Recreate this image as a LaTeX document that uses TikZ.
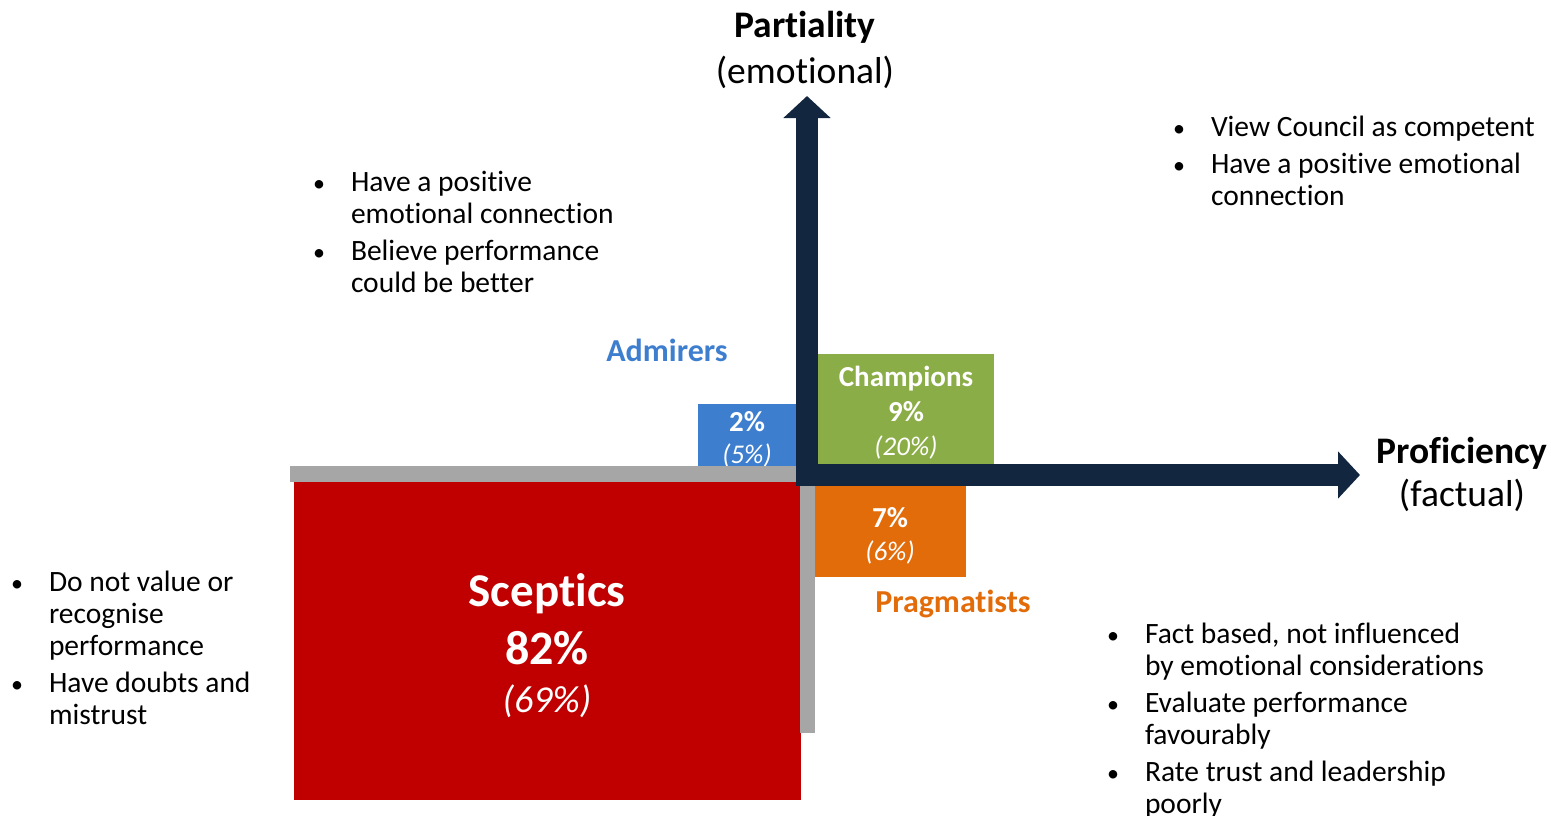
\documentclass[tikz,border=0pt]{standalone}
\usepackage{fontspec}
\setmainfont{Carlito}[Ligatures=NoCommon]
\usetikzlibrary{arrows.meta}
\definecolor{axisnavy}{RGB}{18,38,64}
\definecolor{barsgray}{RGB}{166,166,166}
\definecolor{sceptred}{RGB}{192,0,0}
\definecolor{admirblue}{RGB}{62,126,207}
\definecolor{champgreen}{RGB}{139,173,72}
\definecolor{pragorange}{RGB}{227,108,10}
\newcommand{\bitem}{\llap{\fontsize{24}{32}\selectfont•\hspace{26pt}}}
\begin{document}
\begin{tikzpicture}[x=1pt,y=-1pt,every node/.style={inner sep=0,outer sep=0},
    quad/.style={anchor=north west,minimum width=#1},
    axis/.style={draw=axisnavy,line width=22pt,-{Triangle[width=46pt,length=22pt]}},
    bigtitle/.style={font=\fontsize{37.5}{44}\selectfont\bfseries},
    subtitle/.style={font=\fontsize{37.5}{44}\selectfont},
    numtext/.style={text=white,font=\fontsize{29}{34}\selectfont\bfseries},
    oldtext/.style={text=white,font=\fontsize{27}{32}\selectfont\itshape},
    notes/.style={anchor=north west,align=left,font=\fontsize{29.5}{32}\selectfont}]
\useasboundingbox (0,0) rectangle (1551,816);

% groups
\node[quad=507,minimum height=318,fill=sceptred] (sceptics) at (294,482) {};
\node[quad=99,minimum height=62,fill=admirblue] (admirers) at (698,404) {};
\node[quad=176,minimum height=110,fill=champgreen] (champions) at (818,354) {};
\node[quad=152,minimum height=91,fill=pragorange] (pragmatists) at (814,486) {};

\node[numtext] (adpct) at (747,422) {2\%};
\node[oldtext] (adold) at (747,455) {(5\%)};
\node[numtext] (chname) at (906,379) {Champions};
\node[numtext] (chpct) at (906,412) {9\%};
\node[oldtext] (chold) at (906,447) {(20\%)};
\node[numtext] (prpct) at (890,518) {7\%};
\node[oldtext] (prold) at (890,552) {(6\%)};
\node[text=white,font=\fontsize{47}{56}\selectfont\bfseries] (scname) at (547,594) {Sceptics};
\node[text=white,font=\fontsize{48}{56}\selectfont\bfseries] (scpct) at (547,648) {82\%};
\node[text=white,font=\fontsize{38}{45}\selectfont\itshape] (scold) at (547,701) {(69\%)};

% gray bars
\node[quad=507,minimum height=16,fill=barsgray] (hbar) at (290,466) {};
\node[quad=15,minimum height=247,fill=barsgray] (vbar) at (800,486) {};

% axes
\coordinate (corner) at (796,486);
\coordinate (ytip) at (807,96);
\coordinate (xtip) at (1360,475);
\draw[axis] (807,486) -- (ytip);
\draw[axis] (796,475) -- (xtip);

\node[bigtitle] (ytitle) at (805,27) {Partiality};
\node[subtitle] (ysub) at (805,72) {(emotional)};
\node[bigtitle] (xtitle) at (1462,453) {Proficiency};
\node[subtitle] (xsub) at (1462,495) {(factual)};

\node[text=admirblue,font=\fontsize{32}{38}\selectfont\bfseries] (adlabel) at (667,350) {Admirers};
\node[text=pragorange,font=\fontsize{32}{38}\selectfont\bfseries] (prlabel) at (953,604) {Pragmatists};

% notes
\node[notes] (adnotes) at (351,169) {\strut\bitem Have a positive\\ emotional connection\\[5pt]
    \bitem Believe performance\\ could be better};
\node[notes] (chnotes) at (1211,114) {\strut\bitem View Council as competent\\[5pt]
    \bitem Have a positive emotional\\ connection};
\node[notes] (scnotes) at (49,569) {\strut\bitem Do not value or\\ recognise\\ performance\\[5pt]
    \bitem Have doubts and\\ mistrust};
\node[notes] (prnotes) at (1145,621) {\strut\bitem Fact based, not influenced\\ by emotional considerations\\[5pt]
    \bitem Evaluate performance\\ favourably\\[5pt]
    \bitem Rate trust and leadership\\ poorly};
\end{tikzpicture}
\end{document}
